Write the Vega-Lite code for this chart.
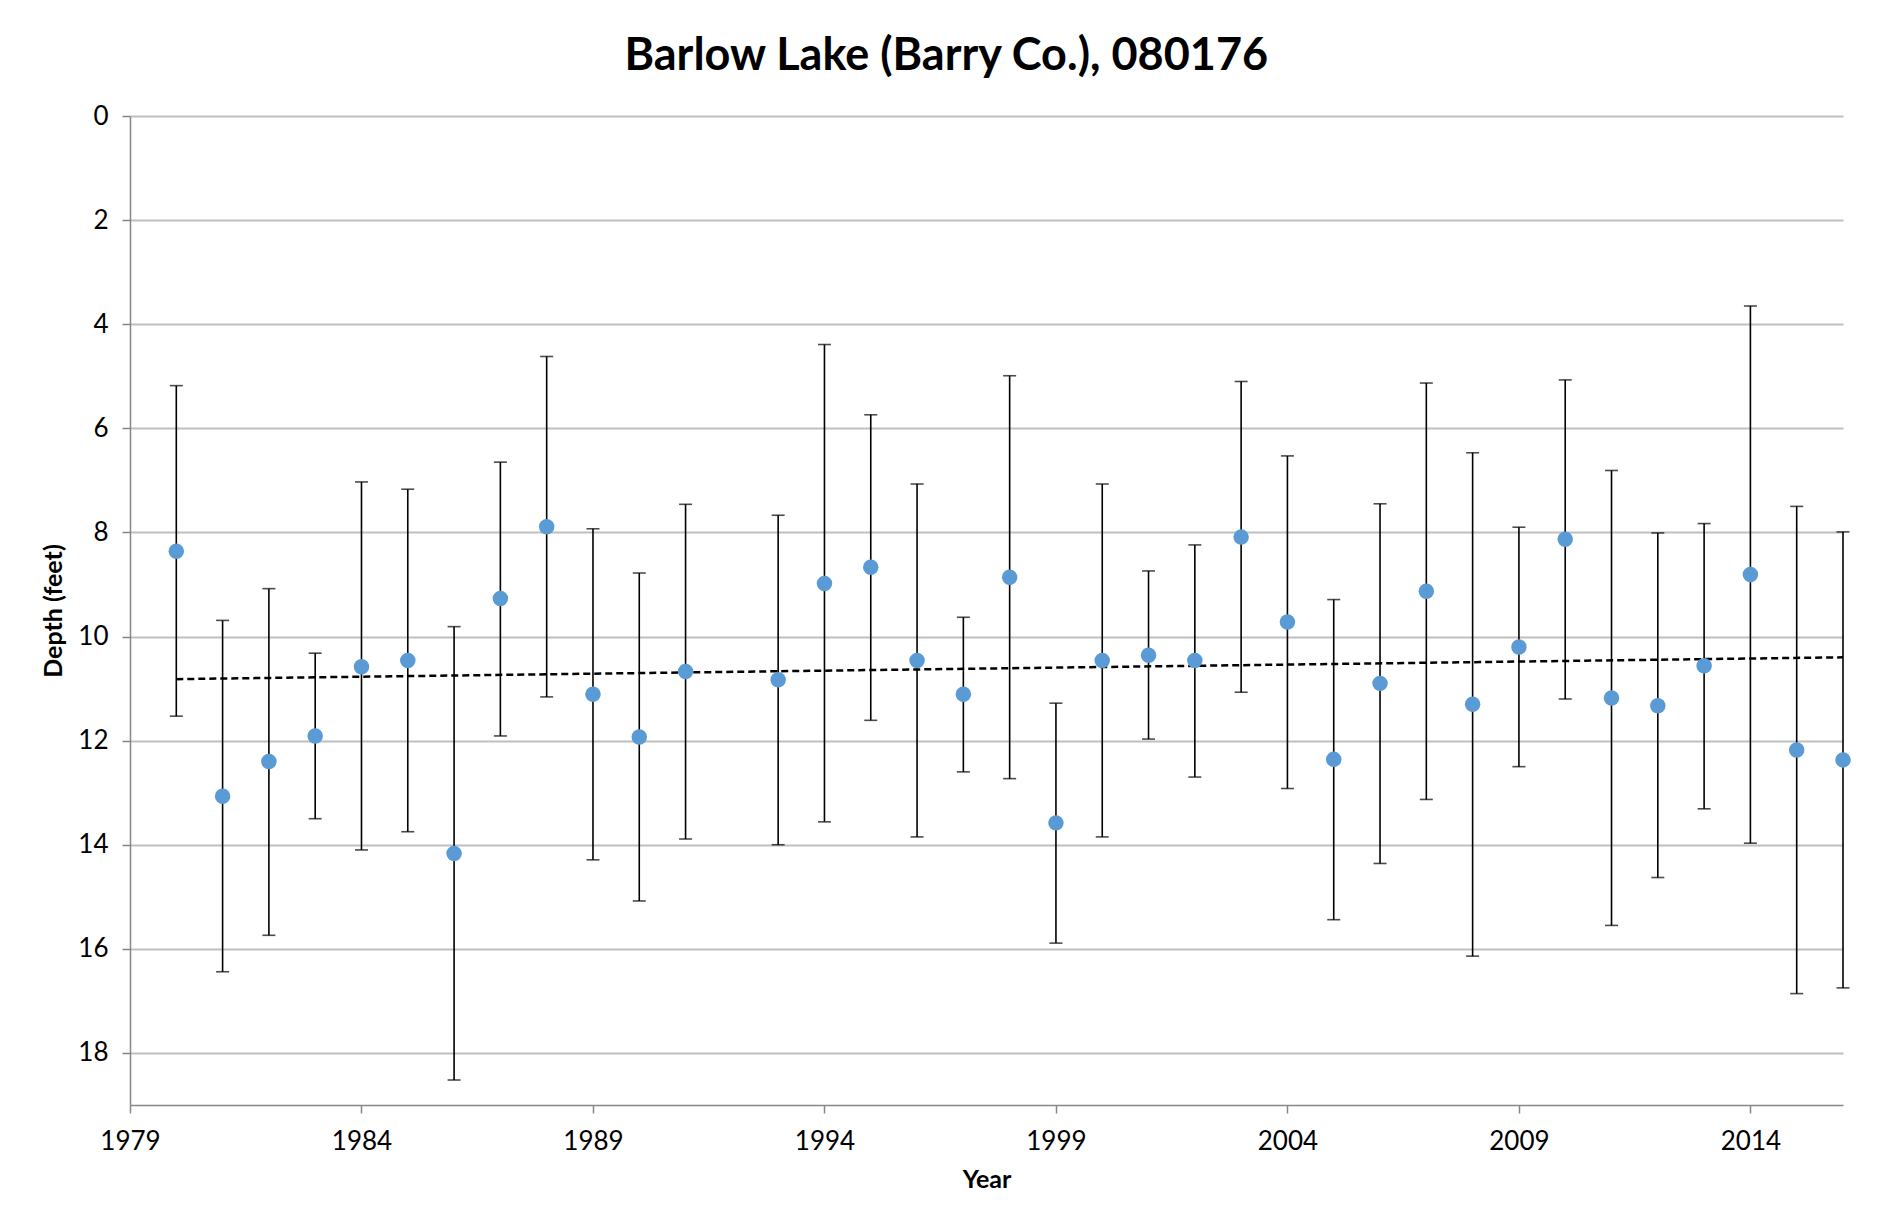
{
  "$schema": "https://vega.github.io/schema/vega-lite/v6.json",
  "autosize": "none",
  "width": 1713,
  "height": 989,
  "padding": {"left": 130, "top": 116, "right": 61, "bottom": 120},
  "background": "white",
  "config": {
    "font": "Lato",
    "view": {"stroke": null}
  },
  "title": {
    "text": "Barlow Lake (Barry Co.), 080176",
    "font": "Lato",
    "fontSize": 45,
    "fontWeight": "bold",
    "color": "#000000",
    "anchor": "middle",
    "frame": "bounds",
    "offset": 24
  },
  "data": {
    "values": [
      {"year": 1980, "depth": 8.36, "upper": 5.18, "lower": 11.53},
      {"year": 1981, "depth": 13.07, "upper": 9.69, "lower": 16.44},
      {"year": 1982, "depth": 12.40, "upper": 9.08, "lower": 15.74},
      {"year": 1983, "depth": 11.91, "upper": 10.32, "lower": 13.50},
      {"year": 1984, "depth": 10.58, "upper": 7.03, "lower": 14.10},
      {"year": 1985, "depth": 10.46, "upper": 7.17, "lower": 13.75},
      {"year": 1986, "depth": 14.17, "upper": 9.81, "lower": 18.52},
      {"year": 1987, "depth": 9.27, "upper": 6.65, "lower": 11.91},
      {"year": 1988, "depth": 7.89, "upper": 4.62, "lower": 11.16},
      {"year": 1989, "depth": 11.11, "upper": 7.93, "lower": 14.29},
      {"year": 1990, "depth": 11.93, "upper": 8.78, "lower": 15.08},
      {"year": 1991, "depth": 10.67, "upper": 7.46, "lower": 13.89},
      {"year": 1993, "depth": 10.83, "upper": 7.67, "lower": 14.00},
      {"year": 1994, "depth": 8.98, "upper": 4.39, "lower": 13.56},
      {"year": 1995, "depth": 8.67, "upper": 5.74, "lower": 11.61},
      {"year": 1996, "depth": 10.46, "upper": 7.07, "lower": 13.85},
      {"year": 1997, "depth": 11.11, "upper": 9.63, "lower": 12.60},
      {"year": 1998, "depth": 8.86, "upper": 4.99, "lower": 12.73},
      {"year": 1999, "depth": 13.58, "upper": 11.28, "lower": 15.89},
      {"year": 2000, "depth": 10.46, "upper": 7.07, "lower": 13.85},
      {"year": 2001, "depth": 10.36, "upper": 8.74, "lower": 11.97},
      {"year": 2002, "depth": 10.46, "upper": 8.24, "lower": 12.70},
      {"year": 2003, "depth": 8.09, "upper": 5.10, "lower": 11.07},
      {"year": 2004, "depth": 9.72, "upper": 6.53, "lower": 12.92},
      {"year": 2005, "depth": 12.36, "upper": 9.29, "lower": 15.44},
      {"year": 2006, "depth": 10.90, "upper": 7.45, "lower": 14.36},
      {"year": 2007, "depth": 9.13, "upper": 5.13, "lower": 13.13},
      {"year": 2008, "depth": 11.30, "upper": 6.47, "lower": 16.14},
      {"year": 2009, "depth": 10.20, "upper": 7.90, "lower": 12.50},
      {"year": 2010, "depth": 8.13, "upper": 5.07, "lower": 11.20},
      {"year": 2011, "depth": 11.18, "upper": 6.81, "lower": 15.55},
      {"year": 2012, "depth": 11.33, "upper": 8.01, "lower": 14.63},
      {"year": 2013, "depth": 10.56, "upper": 7.83, "lower": 13.31},
      {"year": 2014, "depth": 8.81, "upper": 3.65, "lower": 13.97},
      {"year": 2015, "depth": 12.18, "upper": 7.50, "lower": 16.86},
      {"year": 2016, "depth": 12.37, "upper": 7.99, "lower": 16.75}
    ]
  },
  "encoding": {
    "x": {
      "field": "year",
      "type": "quantitative",
      "scale": {"domain": [1979, 2016], "nice": false, "zero": false},
      "axis": {
        "title": "Year",
        "values": [1979, 1984, 1989, 1994, 1999, 2004, 2009, 2014],
        "format": "d",
        "grid": false,
        "domainColor": "#868686",
        "domainWidth": 1.5,
        "tickColor": "#868686",
        "tickWidth": 1.5,
        "tickSize": 8,
        "labelFont": "Lato",
        "labelFontSize": 26,
        "labelColor": "#000000",
        "labelPadding": 15,
        "labelFlush": false,
        "titleFont": "Lato",
        "titleFontSize": 25,
        "titleFontWeight": "bold",
        "titleColor": "#000000",
        "titlePadding": 13
      }
    }
  },
  "layer": [
    {
      "mark": {"type": "rule", "color": "#000000", "strokeWidth": 1.6},
      "encoding": {
        "y": {
          "field": "upper",
          "type": "quantitative",
          "scale": {"domain": [0, 19], "nice": false, "reverse": true},
          "axis": {
            "title": "Depth (feet)",
            "values": [0, 2, 4, 6, 8, 10, 12, 14, 16, 18],
            "grid": true,
            "gridColor": "#bfbfbf",
            "gridWidth": 2,
            "domainColor": "#868686",
            "domainWidth": 1.5,
            "tickColor": "#868686",
            "tickWidth": 1.5,
            "tickSize": 8,
            "labelFont": "Lato",
            "labelFontSize": 26,
            "labelColor": "#000000",
            "labelPadding": 14,
            "titleFont": "Lato",
            "titleFontSize": 25,
            "titleFontWeight": "bold",
            "titleColor": "#000000",
            "titlePadding": 11
          }
        },
        "y2": {"field": "lower"}
      }
    },
    {
      "mark": {"type": "tick", "orient": "horizontal", "color": "#000000", "size": 13, "thickness": 1.6},
      "encoding": {"y": {"field": "upper", "type": "quantitative"}}
    },
    {
      "mark": {"type": "tick", "orient": "horizontal", "color": "#000000", "size": 13, "thickness": 1.6},
      "encoding": {"y": {"field": "lower", "type": "quantitative"}}
    },
    {
      "transform": [{"regression": "depth", "on": "year"}],
      "mark": {"type": "line", "color": "#000000", "strokeWidth": 2.5, "strokeDash": [7, 4]},
      "encoding": {"y": {"field": "depth", "type": "quantitative"}}
    },
    {
      "mark": {"type": "point", "filled": true, "shape": "circle", "color": "#5b9bd5", "opacity": 1, "size": 240},
      "encoding": {"y": {"field": "depth", "type": "quantitative"}}
    }
  ]
}
